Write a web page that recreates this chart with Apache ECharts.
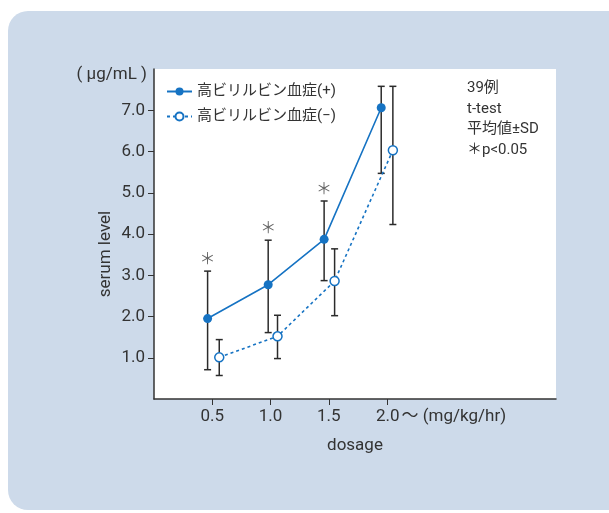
<!DOCTYPE html>
<html><head><meta charset="utf-8">
<script src="https://cdn.jsdelivr.net/npm/echarts@6/dist/echarts.min.js"></script>
<style>html,body{margin:0;padding:0;background:#fff}#c{width:609px;height:513px}</style>
</head><body><div id="c"></div>
<script>
const xTickValues = [0.5, 1.0, 1.5, 2.0];
const xTickLabels = ['0.5', '1.0', '1.5', '2.0〜 (mg/kg/hr)'];
const yTickValues = [1, 2, 3, 4, 5, 6, 7];
const seriesNames = ['高ビリルビン血症(+)', '高ビリルビン血症(−)'];
const plusX = [0.46, 0.98, 1.46, 1.95];
const plusMean = [1.95, 2.77, 3.87, 7.06];
const plusLow = [0.71, 1.61, 2.87, 5.47];
const plusHigh = [3.10, 3.85, 4.80, 7.58];
const minusX = [0.56, 1.06, 1.55, 2.05];
const minusMean = [1.01, 1.52, 2.86, 6.03];
const minusLow = [0.57, 0.98, 2.02, 4.23];
const minusHigh = [1.44, 2.03, 3.64, 7.58];
const significant = [true, true, true, false];
const notes = ['39例', 't-test', '平均値±SD', '＊p<0.05'];

const FONT = 'Roboto, "Noto Sans CJK JP", sans-serif';
const TXT = '#333';
const BLUE = '#1673c3';

function errRender(params, api) {
  const x = api.value(0), lo = api.value(1), hi = api.value(2);
  const pLo = api.coord([x, lo]), pHi = api.coord([x, hi]);
  const w = 3.5;
  const st = { stroke: '#2b2b2b', lineWidth: 1.5 };
  const children = [
    { type: 'line', shape: { x1: pHi[0], y1: pHi[1], x2: pLo[0], y2: pLo[1] }, style: st },
    { type: 'line', shape: { x1: pHi[0] - w, y1: pHi[1], x2: pHi[0] + w, y2: pHi[1] }, style: st },
    { type: 'line', shape: { x1: pLo[0] - w, y1: pLo[1], x2: pLo[0] + w, y2: pLo[1] }, style: st }
  ];
  if (api.value(3)) {
    children.push({ type: 'text', x: pHi[0], y: pHi[1] - 13,
      style: { text: '＊', fill: '#666', font: '16px "Noto Sans CJK JP"', align: 'center', verticalAlign: 'middle' } });
  }
  return { type: 'group', children };
}

const chart = echarts.init(document.getElementById('c'), null, { renderer: 'canvas' });
chart.setOption({
  animation: false,
  backgroundColor: '#fff',
  textStyle: { fontFamily: FONT },
  graphic: [
    { type: 'rect', z: -10, shape: { x: 8, y: 11, width: 640, height: 499, r: 20 }, style: { fill: '#cddaea' } },
    { type: 'text', x: 147, y: 75, style: { text: '( μg/mL )', font: '17px ' + FONT, fill: TXT, align: 'right', verticalAlign: 'middle' } },
    { type: 'text', x: 106, y: 254, rotation: Math.PI / 2, style: { text: 'serum level', font: '17px ' + FONT, fill: TXT, align: 'center', verticalAlign: 'middle' } },
    { type: 'text', left: 467, top: 78, style: { text: notes.join('\n'), font: '15px ' + FONT, lineHeight: 20.5, fill: TXT } }
  ],
  grid: { left: 154, top: 69, right: 53, bottom: 114, show: true, backgroundColor: '#fff', borderWidth: 0 },
  legend: {
    orient: 'vertical', left: 161, top: 79, itemGap: 10, itemWidth: 25, itemHeight: 10,
    textStyle: { fontSize: 15, color: TXT, fontFamily: FONT },
    data: seriesNames
  },
  xAxis: {
    type: 'value', min: 0, max: 3.45,
    name: 'dosage', nameLocation: 'middle', nameGap: 38,
    nameTextStyle: { fontSize: 17, color: TXT },
    axisLine: { lineStyle: { color: '#333', width: 1.5 } },
    axisTick: { show: true, customValues: xTickValues, length: 6, lineStyle: { color: '#333' } },
    axisLabel: {
      customValues: xTickValues, fontSize: 17, color: TXT, margin: 9,
      formatter: function (v) {
        const i = xTickValues.indexOf(v);
        const s = i >= 0 ? xTickLabels[i] : '';
        if (s.length > 3) return '{a|' + s.slice(0, 3) + '}{b|' + s.slice(3) + '}';
        return s;
      },
      rich: { a: { fontSize: 17, color: TXT, padding: [0, 0, 0, 108] }, b: { fontSize: 17, color: TXT, padding: [0, 0, 0, 2] } }
    },
    splitLine: { show: false }
  },
  yAxis: {
    type: 'value', min: 0, max: 8,
    axisLine: { show: true, lineStyle: { color: '#333', width: 1.5 } },
    axisTick: { show: true, customValues: yTickValues, length: 6, lineStyle: { color: '#333' } },
    axisLabel: { customValues: yTickValues, fontSize: 17, color: TXT, margin: 9, formatter: v => v.toFixed(1) },
    splitLine: { show: false }
  },
  series: [
    { type: 'custom', name: 'errPlus', renderItem: errRender, z: 1, silent: true,
      encode: { x: 0, y: [1, 2] },
      data: plusX.map((x, i) => [x, plusLow[i], plusHigh[i], significant[i] ? 1 : 0]) },
    { type: 'custom', name: 'errMinus', renderItem: errRender, z: 1, silent: true,
      encode: { x: 0, y: [1, 2] },
      data: minusX.map((x, i) => [x, minusLow[i], minusHigh[i], 0]) },
    { type: 'line', name: seriesNames[0], z: 3, symbol: 'circle', symbolSize: 9,
      lineStyle: { color: BLUE, width: 1.6 }, itemStyle: { color: BLUE },
      data: plusX.map((x, i) => [x, plusMean[i]]) },
    { type: 'line', name: seriesNames[1], z: 3, symbol: 'circle', symbolSize: 9,
      lineStyle: { color: BLUE, width: 1.6, type: [3, 3] },
      itemStyle: { color: '#fff', borderColor: BLUE, borderWidth: 1.5 },
      data: minusX.map((x, i) => [x, minusMean[i]]) }
  ]
});
</script></body></html>
